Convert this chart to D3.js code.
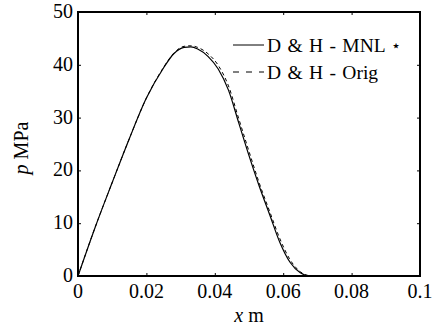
<!DOCTYPE html>
<html>
<head>
<meta charset="utf-8">
<script src="https://cdn.jsdelivr.net/npm/d3@7"></script>
<style>
html,body{margin:0;padding:0;background:#fff;}
svg{display:block;}
</style>
</head>
<body>
<svg id="chart" width="433" height="329"></svg>
<script>
// ---- data ----
const xValues = [0, 0.005, 0.01, 0.015, 0.02, 0.025, 0.028, 0.031, 0.033, 0.035, 0.038, 0.041, 0.044, 0.047, 0.05, 0.053, 0.056, 0.059, 0.062, 0.065, 0.067, 0.068, 0.069, 0.07, 0.08, 0.09, 0.1];
const mnlValues  = [0, 9.2, 17.7, 26.0, 33.7, 39.4, 42.1, 43.3, 43.4, 43.0, 41.6, 39.2, 35.2, 29.0, 22.8, 17.0, 11.7, 6.4, 2.6, 0.6, 0.05, 0, 0, 0, 0, 0, 0];
const origValues = [0, 9.2, 17.7, 26.0, 33.7, 39.5, 42.2, 43.5, 43.6, 43.3, 42.1, 39.9, 36.0, 29.8, 23.6, 17.6, 12.3, 7.1, 3.1, 0.8, 0.15, 0.02, 0, 0, 0, 0, 0];
const xTicks = [0, 0.02, 0.04, 0.06, 0.08, 0.1];
const xTickLabels = ["0", "0.02", "0.04", "0.06", "0.08", "0.1"];
const yTicks = [0, 10, 20, 30, 40, 50];
const yTickLabels = ["0", "10", "20", "30", "40", "50"];
const seriesNames = ["D & H - MNL", "D & H - Orig"];

// ---- layout ----
const FONT = "'Liberation Serif', 'Times New Roman', Times, serif";
const svg = d3.select("#chart");
const L = 78, R = 420, T = 12, B = 276;
const x = d3.scaleLinear().domain([0, 0.1]).range([L, R]);
const y = d3.scaleLinear().domain([0, 50]).range([B, T]);
const fs = 20;

const line = vals => d3.line()
  .x((d, i) => x(xValues[i]))
  .y(d => y(d))
  .curve(d3.curveMonotoneX)(vals);

svg.append("path").attr("d", line(origValues))
  .attr("fill", "none").attr("stroke", "#000").attr("stroke-width", 1)
  .attr("stroke-dasharray", "3.5,3");
svg.append("path").attr("d", line(mnlValues))
  .attr("fill", "none").attr("stroke", "#000").attr("stroke-width", 1.2);

// axes (inward ticks, box)
const tickLen = 3;
const axB = d3.axisBottom(x).tickValues(xTicks).tickSize(-tickLen).tickFormat("");
const axT = d3.axisTop(x).tickValues(xTicks).tickSize(-tickLen).tickFormat("");
const axLft = d3.axisLeft(y).tickValues(yTicks).tickSize(-tickLen).tickFormat("");
const axRgt = d3.axisRight(y).tickValues(yTicks).tickSize(-tickLen).tickFormat("");
function styleAxis(g){
  g.select(".domain").remove();
  g.selectAll(".tick line").attr("stroke", "#000").attr("stroke-width", 1);
}
svg.append("g").attr("transform", `translate(0,${B})`).call(axB).call(styleAxis);
svg.append("g").attr("transform", `translate(0,${T})`).call(axT).call(styleAxis);
svg.append("g").attr("transform", `translate(${L},0)`).call(axLft).call(styleAxis);
svg.append("g").attr("transform", `translate(${R},0)`).call(axRgt).call(styleAxis);
svg.append("rect").attr("x", L).attr("y", T).attr("width", R - L).attr("height", B - T)
  .attr("fill", "none").attr("stroke", "#000").attr("stroke-width", 2);

// tick labels
svg.selectAll(".xtl").data(xTicks).enter().append("text")
  .attr("x", d => x(d)).attr("y", B + 22)
  .attr("text-anchor", "middle").attr("font-size", fs).attr("font-family", FONT)
  .text((d, i) => xTickLabels[i]);
svg.selectAll(".ytl").data(yTicks).enter().append("text")
  .attr("x", L - 5).attr("y", d => y(d) + 6)
  .attr("text-anchor", "end").attr("font-size", fs).attr("font-family", FONT)
  .text((d, i) => yTickLabels[i]);

// axis labels
const xl = svg.append("text").attr("x", (L + R) / 2).attr("y", 322)
  .attr("text-anchor", "middle").attr("font-size", fs).attr("font-family", FONT);
xl.append("tspan").attr("font-style", "italic").text("x");
xl.append("tspan").text(" m");
const yl = svg.append("text").attr("transform", `translate(28,148) rotate(-90)`)
  .attr("text-anchor", "middle").attr("font-size", fs).attr("font-family", FONT);
yl.append("tspan").attr("font-style", "italic").text("p");
yl.append("tspan").text(" MPa");

// legend
const legRows = [{y: 45, dash: null}, {y: 72, dash: "6,7"}];
legRows.forEach((r, i) => {
  svg.append("line").attr("x1", 233).attr("x2", 264).attr("y1", r.y).attr("y2", r.y)
    .attr("stroke", "#000").attr("stroke-width", 1)
    .attr("stroke-dasharray", r.dash);
  svg.append("text").attr("x", 267).attr("y", r.y + 7).attr("font-size", 19.5)
    .attr("font-family", FONT).style("word-spacing", "1.5px")
    .text(seriesNames[i]);
});
svg.append("text").attr("x", 396).attr("y", 51).attr("text-anchor", "middle")
  .attr("font-size", 16).attr("font-family", "'DejaVu Sans'").text("\u22C6");
</script>
</body>
</html>
